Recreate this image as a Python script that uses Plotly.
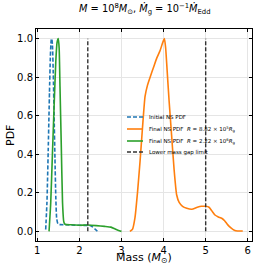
import plotly.graph_objects as go

blue_x = [1.20, 1.23, 1.26, 1.29, 1.31, 1.33, 1.345, 1.36, 1.38, 1.40, 1.42, 1.44, 1.46, 1.49, 1.55, 1.70, 1.90, 2.10, 2.25, 2.32, 2.38, 2.43]
blue_y = [0.01, 0.15, 0.42, 0.72, 0.90, 0.99, 1.00, 0.97, 0.82, 0.60, 0.38, 0.18, 0.07, 0.04, 0.035, 0.034, 0.032, 0.031, 0.03, 0.022, 0.01, 0.0]

green_x = [1.28, 1.32, 1.36, 1.40, 1.44, 1.47, 1.50, 1.52, 1.54, 1.57, 1.60, 1.63, 1.66, 1.80, 2.00, 2.20, 2.40, 2.60, 2.75, 2.85, 2.95, 3.00]
green_y = [0.0, 0.15, 0.40, 0.65, 0.88, 0.98, 1.00, 0.95, 0.75, 0.45, 0.15, 0.05, 0.037, 0.034, 0.032, 0.033, 0.030, 0.026, 0.022, 0.012, 0.003, 0.0]

orange_x = [3.20, 3.26, 3.32, 3.38, 3.44, 3.50, 3.56, 3.62, 3.68, 3.76, 3.84, 3.92, 3.98, 4.02, 4.05, 4.08, 4.13, 4.19, 4.25, 4.31, 4.37, 4.45, 4.55, 4.67, 4.80, 4.90, 5.00, 5.08, 5.15, 5.22, 5.30, 5.38, 5.45, 5.52, 5.60, 5.68, 5.76, 5.88]
orange_y = [0.0, 0.01, 0.07, 0.20, 0.36, 0.54, 0.70, 0.76, 0.80, 0.85, 0.90, 0.94, 0.98, 1.00, 0.95, 0.85, 0.68, 0.50, 0.32, 0.19, 0.15, 0.13, 0.12, 0.115, 0.125, 0.13, 0.13, 0.125, 0.105, 0.085, 0.075, 0.068, 0.055, 0.035, 0.018, 0.006, 0.002, 0.002]

gap_x = [2.2, 5.0]
gap_y = [0.0, 1.0]

labels = [
    "Initial NS PDF",
    "Final NS PDF  <i>R</i> = 8.82 × 10<sup>5</sup><i>R</i><sub>g</sub>",
    "Final NS PDF  <i>R</i> = 2.22 × 10<sup>6</sup><i>R</i><sub>g</sub>",
    "Lower mass gap limit",
]

BLUE, ORANGE, GREEN, GAP = "#1f77b4", "#ff7f0e", "#2ca02c", "#333333"
styles = [
    dict(color=BLUE, width=1.6, dash="4px,2px"),
    dict(color=ORANGE, width=1.6),
    dict(color=GREEN, width=1.6),
    dict(color=GAP, width=1.4, dash="4px,2px"),
]

fig = go.Figure()
fig.add_trace(go.Scatter(x=blue_x, y=blue_y, mode="lines", name=labels[0],
                         line=dict(**styles[0], shape="spline", smoothing=0.5)))
fig.add_trace(go.Scatter(x=orange_x, y=orange_y, mode="lines", name=labels[1],
                         line=dict(**styles[1], shape="spline", smoothing=0.5)))
fig.add_trace(go.Scatter(x=green_x, y=green_y, mode="lines", name=labels[2],
                         line=dict(**styles[2], shape="spline", smoothing=0.5)))
for gx in gap_x:
    fig.add_trace(go.Scatter(x=[gx, gx], y=gap_y, mode="lines", name=labels[3],
                             line=styles[3]))

# compact legend (no frame), drawn in paper coordinates
L, R, T, B = 36, 2, 29, 24
W, H = 254, 265
pw, ph = W - L - R, H - T - B
def px_x(p):
    return (p - L) / pw
def px_y(p):
    return (H - B - p) / ph

row_y = [117, 129, 141, 152]
for lab, st, ry in zip(labels, styles, row_y):
    fig.add_shape(type="line", xref="paper", yref="paper",
                  x0=px_x(127), x1=px_x(143), y0=px_y(ry), y1=px_y(ry), line=st)
    fig.add_annotation(xref="paper", yref="paper", x=px_x(147), y=px_y(ry),
                       xanchor="left", yanchor="middle", text=lab, showarrow=False,
                       font=dict(size=5.5, color="black"))

# axis titles
fig.add_annotation(xref="paper", yref="paper", x=px_x(144), y=px_y(257.5),
                   xanchor="center", yanchor="middle", showarrow=False,
                   text="Mass (<i>M</i><sub>⊙</sub>)", font=dict(size=11, color="black"))
fig.add_annotation(xref="paper", yref="paper", x=px_x(10), y=px_y(136),
                   xanchor="center", yanchor="middle", showarrow=False, textangle=-90,
                   text="PDF", font=dict(size=11, color="black"))

axis_common = dict(showline=True, linecolor="black", linewidth=1, mirror="ticks",
                   ticks="inside", ticklen=3, tickcolor="black", showgrid=True,
                   gridcolor="#e5e5e5", gridwidth=1, zeroline=False, automargin=False,
                   tickfont=dict(size=10, color="black"))

fig.update_layout(
    width=W, height=H,
    margin=dict(l=L, r=R, t=T, b=B),
    paper_bgcolor="white", plot_bgcolor="white",
    font=dict(family="DejaVu Sans", color="black"),
    showlegend=False,
    title=dict(text="<i>M</i> = 10<sup>8</sup><i>M</i><sub>⊙</sub>, <i>M\u0307</i><sub>g</sub> = 10<sup>−1</sup><i>M\u0307</i><sub>Edd</sub>",
               x=0.57, xanchor="center", y=1 - 9 / 265, yanchor="middle", font=dict(size=9.8)),
    xaxis=dict(range=[0.97, 6.1], tickvals=[1, 2, 3, 4, 5, 6], **axis_common),
    yaxis=dict(range=[-0.05, 1.05], tickvals=[0, 0.2, 0.4, 0.6, 0.8, 1.0], tickformat=".1f",
               **axis_common),
)

fig.write_html("out.html", config={"displayModeBar": False})
with open("out.html", "r", encoding="utf-8") as f:
    html = f.read()
html = html.replace("<body>", '<body style="margin:0;padding:0;overflow:hidden">', 1)
with open("out.html", "w", encoding="utf-8") as f:
    f.write(html)
